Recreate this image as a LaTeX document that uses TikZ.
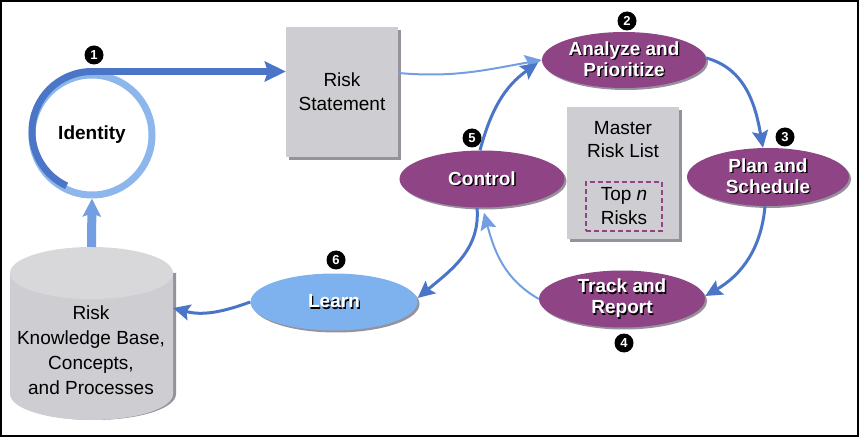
\documentclass[tikz,border=0pt]{standalone}
\usepackage{fontspec}
\setmainfont{Liberation Sans}
\usetikzlibrary{arrows.meta,shapes.geometric,shadows}

\definecolor{phasepurple}{RGB}{143,68,133}
\definecolor{learnblue}{RGB}{125,178,238}
\definecolor{flowblue}{RGB}{75,118,200}
\definecolor{flowlight}{RGB}{115,158,225}
\definecolor{ringlight}{RGB}{140,182,236}
\definecolor{papergray}{RGB}{206,206,210}
\definecolor{kbtop}{RGB}{216,216,219}
\definecolor{shadowgray}{RGB}{150,145,155}

% white text with a small black drop shadow
\newcommand{\wtxt}[1]{\makebox[0pt][l]{\hspace*{1.3pt}\raisebox{-1.3pt}{\color{black}#1}}#1}

\begin{document}
\begin{tikzpicture}[x=1pt, y=1pt, >={Stealth[length=17pt,width=16pt,inset=3pt]},
    phase/.style={ellipse, fill=phasepurple, text=white, align=center, inner sep=0pt,
        font=\fontsize{19}{21}\selectfont\bfseries,
        general shadow={fill=shadowgray, shadow xshift=2pt, shadow yshift=-2pt}},
    paper/.style={rectangle, fill=papergray, align=center, inner sep=0pt,
        font=\fontsize{19}{24}\selectfont,
        general shadow={fill=shadowgray, shadow xshift=3pt, shadow yshift=-3pt}},
    badge/.style={circle, fill=black, text=white, inner sep=0pt, minimum size=19pt,
        font=\fontsize{13}{13}\selectfont\bfseries},
    flow/.style={->, draw=flowblue, line width=3pt},
    faint/.style={->, draw=flowlight, line width=2pt}]
    \useasboundingbox (0,0) rectangle (860,437);
    \draw[line width=2pt] (1,1) rectangle (858,436);

    % identify ring
    \node[circle, draw=ringlight, line width=7pt, minimum size=120pt,
        font=\fontsize{19}{21}\selectfont\bfseries] (ident) at (92,302) {Identity};
    \draw[flowblue, line width=7pt] (ident.north) arc[start angle=90, end angle=245, radius=60pt];

    % knowledge base drum
    \fill[shadowgray] (13,164) -- (13,43) arc[start angle=180, end angle=360, x radius=81.5, y radius=26] -- (176,164) -- cycle;
    \fill[papergray] (10,164) -- (10,43) arc[start angle=180, end angle=360, x radius=81.5, y radius=26] -- (173,164) -- cycle;
    \fill[kbtop] (91.5,164) ellipse[x radius=81.5, y radius=26];
    \coordinate (kbtop) at (91.5,190);
    \coordinate (kbside) at (173,129);
    \node[align=center, font=\fontsize{19}{25}\selectfont] (kb) at (91,87)
        {Risk\\Knowledge Base,\\Concepts,\\and Processes};

    % statement and master list
    \node[paper, minimum width=112pt, minimum height=130pt] (stmt) at (342,345) {Risk\\Statement};
    \node[paper, minimum width=112pt, minimum height=132pt] (master) at (623,264) {};
    \node[align=center, font=\fontsize{19}{23}\selectfont] (mlist) at (623,297) {Master\\Risk List};
    \node[draw=phasepurple, dashed, line width=1.2pt, dash pattern=on 5pt off 3pt,
        minimum width=76pt, minimum height=49pt, align=center, inner sep=0pt,
        font=\fontsize{19}{24}\selectfont] (topn) at (624,230.5) {Top \textit{n}\\Risks};

    % the phases
    \node[phase, minimum width=164pt, minimum height=56pt] (anal) at (624,377) {\wtxt{Analyze and}\\\wtxt{Prioritize}};
    \node[phase, minimum width=162pt, minimum height=58pt] (plan) at (768,260) {\wtxt{Plan and}\\\wtxt{Schedule}};
    \node[phase, minimum width=166pt, minimum height=57pt] (track) at (622,138) {\wtxt{Track and}\\\wtxt{Report}};
    \node[phase, minimum width=165pt, minimum height=57pt] (ctrl) at (482,258) {\wtxt{Control}};
    \node[phase, fill=learnblue, minimum width=167pt, minimum height=57pt] (learn) at (334,135) {\wtxt{Learn}};

    % numbers
    \node[badge] (b1) at (94,382) {1};
    \node[badge] (b2) at (627,416) {2};
    \node[badge] (b3) at (785,300) {3};
    \node[badge] (b4) at (624,94) {4};
    \node[badge] (b5) at (472,299) {5};
    \node[badge] (b6) at (336,177) {6};

    % arrows
    \draw[->, flowblue, line width=7pt, >={Stealth[length=21pt,width=20pt,inset=3pt]}]
        (ident.north) -- (ident.north -| stmt.west);
    \draw[->, flowlight, line width=9pt, >={Stealth[length=18pt,width=18pt,inset=3pt]}]
        (kbtop) -- (ident.south);
    \draw[faint] ([yshift=19pt]stmt.east) to[out=-5, in=190] (anal.west);
    \draw[flow] ([xshift=-2pt]ctrl.north) to[out=75, in=215] ([xshift=-4pt, yshift=-3pt]anal.west);
    \draw[flow] ([yshift=2pt]anal.east) to[out=-15, in=100] ([xshift=-5pt]plan.north);
    \draw[flow] ([xshift=-3pt]plan.south) to[out=-95, in=30] ([yshift=3pt]track.east);
    \draw[faint] (track.west) to[out=150, in=-75] ([xshift=2pt, yshift=-5pt]ctrl.south);
    \draw[flow] ([xshift=-5pt]ctrl.south) to[out=-85, in=40] ([yshift=4pt]learn.east);
    \draw[flow] (learn.west) to[out=200, in=-15] (kbside);
\end{tikzpicture}
\end{document}
